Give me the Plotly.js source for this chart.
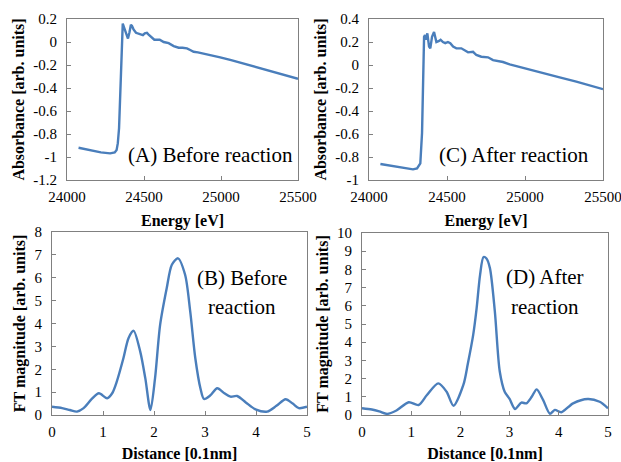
<!DOCTYPE html>
<html>
<head>
<meta charset="utf-8">
<script src="https://cdn.plot.ly/plotly-3.0.1.min.js"></script>
<style>html,body{margin:0;padding:0;background:#fff;}#chart{width:621px;height:462px;}</style>
</head>
<body>
<div id="chart"></div>
<script>
// (A) XANES before reaction
const energyA = [24075, 24150, 24220, 24280, 24310, 24322, 24330, 24338, 24345, 24350, 24354, 24358, 24362, 24372, 24382, 24389, 24396, 24405, 24415, 24422, 24432, 24448, 24462, 24476, 24493, 24505, 24519, 24530, 24541, 24555, 24567, 24585, 24602, 24628, 24660, 24693, 24725, 24750, 24779, 24800, 24822, 24850, 24887, 24940, 24995, 25060, 25125, 25190, 25255, 25320, 25385, 25450, 25500];
const absA = [-0.92, -0.94, -0.96, -0.968, -0.96, -0.94, -0.88, -0.75, -0.5, -0.25, -0.02, 0.12, 0.16, 0.12, 0.08, 0.04, 0.03, 0.08, 0.15, 0.14, 0.11, 0.08, 0.075, 0.07, 0.06, 0.075, 0.08, 0.065, 0.05, 0.035, 0.02, 0.02, 0.02, 0.0, -0.01, -0.035, -0.05, -0.05, -0.055, -0.07, -0.085, -0.09, -0.10, -0.115, -0.133, -0.155, -0.18, -0.205, -0.23, -0.255, -0.28, -0.30, -0.32];
// (C) XANES after reaction
const energyC = [24073, 24175, 24282, 24308, 24329, 24340, 24346, 24353, 24359, 24365, 24374, 24385, 24393, 24404, 24417, 24432, 24449, 24459, 24474, 24489, 24506, 24521, 24539, 24560, 24592, 24613, 24635, 24667, 24688, 24720, 24763, 24795, 24859, 24902, 25009, 25115, 25222, 25329, 25436, 25500];
const absC = [-0.861, -0.884, -0.907, -0.9, -0.855, -0.59, -0.16, 0.246, 0.26, 0.22, 0.275, 0.16, 0.145, 0.246, 0.287, 0.2, 0.21, 0.22, 0.2, 0.19, 0.2, 0.19, 0.16, 0.145, 0.145, 0.13, 0.11, 0.115, 0.087, 0.072, 0.067, 0.043, 0.026, 0.006, -0.03, -0.067, -0.107, -0.145, -0.188, -0.21];
// (B) FT before reaction
const distB = [0, 0.2, 0.35, 0.49, 0.62, 0.78, 0.92, 1.08, 1.18, 1.27, 1.4, 1.5, 1.6, 1.73, 1.83, 1.93, 2.02, 2.12, 2.25, 2.35, 2.47, 2.61, 2.71, 2.81, 2.91, 2.98, 3.1, 3.24, 3.38, 3.5, 3.63, 3.8, 3.99, 4.22, 4.4, 4.58, 4.72, 4.84, 5.0];
const ftB = [0.36, 0.3, 0.22, 0.15, 0.3, 0.7, 0.95, 0.73, 0.95, 1.46, 2.48, 3.36, 3.68, 2.77, 1.6, 0.22, 1.6, 3.94, 5.55, 6.57, 6.85, 6.13, 4.53, 2.48, 1.17, 0.7, 0.85, 1.17, 0.95, 0.8, 0.83, 0.55, 0.25, 0.15, 0.4, 0.69, 0.5, 0.3, 0.36];
// (D) FT after reaction
const distD = [0, 0.2, 0.35, 0.51, 0.7, 0.95, 1.15, 1.32, 1.55, 1.72, 1.86, 2.06, 2.15, 2.26, 2.33, 2.4, 2.47, 2.53, 2.6, 2.7, 2.8, 2.9, 3.0, 3.11, 3.24, 3.34, 3.45, 3.55, 3.68, 3.82, 3.92, 4.05, 4.29, 4.59, 4.83, 5.0];
const ftD = [0.37, 0.3, 0.2, 0.06, 0.25, 0.7, 0.55, 1.1, 1.74, 1.28, 0.51, 1.65, 2.8, 4.4, 5.87, 7.7, 8.68, 8.6, 8.07, 5.69, 2.39, 1.28, 0.88, 0.33, 0.68, 0.64, 1.0, 1.41, 0.83, 0.07, 0.28, 0.15, 0.64, 0.88, 0.73, 0.37];

// tick values / labels
const energyTicks = [24000, 24500, 25000, 25500];
const absTicksA = [-1.2, -1, -0.8, -0.6, -0.4, -0.2, 0, 0.2];
const absTicksC = [-1, -0.8, -0.6, -0.4, -0.2, 0, 0.2, 0.4];
const distTicks = [0, 1, 2, 3, 4, 5];
const ftTicksB = [0, 1, 2, 3, 4, 5, 6, 7, 8];
const ftTicksD = [0, 1, 2, 3, 4, 5, 6, 7, 8, 9, 10];
const labelA = '(A) Before reaction';
const labelC = '(C) After reaction';
const labelB = ['(B) Before', 'reaction'];
const labelD = ['(D) After', 'reaction'];

const FONT = '"Liberation Serif", "Times New Roman", Times, serif';
const W = 621, H = 462;
const LINE = {color: '#4a7ebb', width: 2.4};
const fx = (a, b) => [a / W, b / W];
const fy = (top, bot) => [1 - bot / H, 1 - top / H];
const txt = v => v.map(x => String(x));

function ax(domain, range, ticks, title, anchor, isY) {
  return {
    domain: domain, range: range, anchor: anchor,
    tickvals: ticks, ticktext: txt(ticks),
    ticks: 'inside', ticklen: 4, tickcolor: '#808080', tickwidth: 1,
    showline: true, mirror: true, linecolor: '#808080', linewidth: 1,
    showgrid: false, zeroline: false,
    tickfont: {family: FONT, size: 15, color: '#000'},
    ticklabelstandoff: isY ? 6 : 3,
    ticklabeloverflow: 'allow',
    title: {text: title, font: {family: FONT, size: 16, color: '#000', weight: 'bold'}, standoff: isY ? 4 : 10},
    automargin: false, fixedrange: true
  };
}

const traces = [
  {x: energyA, y: absA, xaxis: 'x', yaxis: 'y', mode: 'lines', line: LINE},
  {x: energyC, y: absC, xaxis: 'x2', yaxis: 'y2', mode: 'lines', line: LINE},
  {x: distB, y: ftB, xaxis: 'x3', yaxis: 'y3', mode: 'lines', line: Object.assign({shape: 'spline', smoothing: 0.8}, LINE)},
  {x: distD, y: ftD, xaxis: 'x4', yaxis: 'y4', mode: 'lines', line: Object.assign({shape: 'spline', smoothing: 0.8}, LINE)}
];

const AF = {family: FONT, size: 21, color: '#000'};
const layout = {
  width: W, height: H, showlegend: false,
  margin: {l: 0, r: 0, t: 0, b: 0},
  paper_bgcolor: '#fff', plot_bgcolor: '#fff',
  font: {family: FONT, color: '#000'},
  xaxis: ax(fx(67, 298), [24000, 25500], energyTicks, 'Energy [eV]', 'y', false),
  yaxis: ax(fy(19, 180), [-1.2, 0.2], absTicksA, 'Absorbance [arb. units]', 'x', true),
  xaxis2: ax(fx(369, 603), [24000, 25500], energyTicks, 'Energy [eV]', 'y2', false),
  yaxis2: ax(fy(19, 180), [-1, 0.4], absTicksC, 'Absorbance [arb. units]', 'x2', true),
  xaxis3: ax(fx(52, 307), [0, 5], distTicks, 'Distance [0.1nm]', 'y3', false),
  yaxis3: ax(fy(232, 415), [0, 8], ftTicksB, 'FT magnitude [arb. units]', 'x3', true),
  xaxis4: ax(fx(362, 608), [0, 5], distTicks, 'Distance [0.1nm]', 'y4', false),
  yaxis4: ax(fy(233, 415), [0, 10], ftTicksD, 'FT magnitude [arb. units]', 'x4', true),
  annotations: [
    {text: labelA, xref: 'x', yref: 'y', x: 24929, y: -0.98, showarrow: false, font: AF},
    {text: labelC, xref: 'x2', yref: 'y2', x: 24929, y: -0.78, showarrow: false, font: AF},
    {text: labelB[0], xref: 'x3', yref: 'y3', x: 3.72, y: 6.0, showarrow: false, font: AF},
    {text: labelB[1], xref: 'x3', yref: 'y3', x: 3.72, y: 4.7, showarrow: false, font: AF},
    {text: labelD[0], xref: 'x4', yref: 'y4', x: 3.72, y: 7.6, showarrow: false, font: AF},
    {text: labelD[1], xref: 'x4', yref: 'y4', x: 3.72, y: 5.95, showarrow: false, font: AF}
  ]
};

Plotly.newPlot('chart', traces, layout, {staticPlot: true, displayModeBar: false});
</script>
</body>
</html>
